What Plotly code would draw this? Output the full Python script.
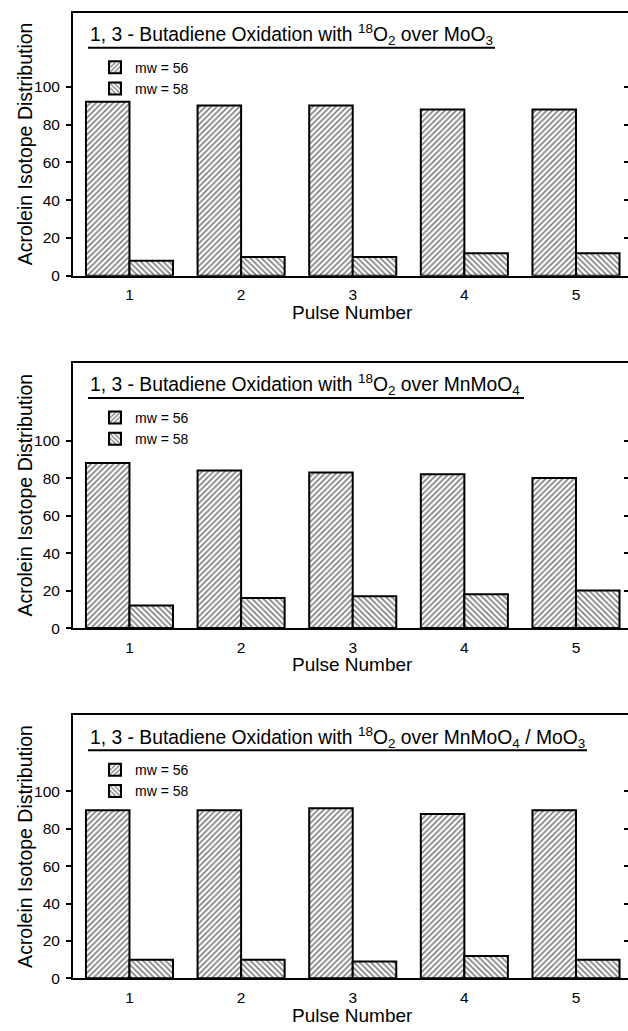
import plotly.graph_objects as go

W, H = 628, 1031

pulses = [1, 2, 3, 4, 5]
series_names = ["mw = 56", "mw = 58"]

moo3_mw56 = [92, 90, 90, 88, 88]
moo3_mw58 = [8, 10, 10, 12, 12]

mnmoo4_mw56 = [88, 84, 83, 82, 80]
mnmoo4_mw58 = [12, 16, 17, 18, 20]

mix_mw56 = [90, 90, 91, 88, 90]
mix_mw58 = [10, 10, 9, 12, 10]

titles = [
    "1, 3 - Butadiene Oxidation with <sup>18</sup>O<sub>2</sub> over MoO<sub>3</sub>",
    "1, 3 - Butadiene Oxidation with <sup>18</sup>O<sub>2</sub> over MnMoO<sub>4</sub>",
    "1, 3 - Butadiene Oxidation with <sup>18</sup>O<sub>2</sub> over MnMoO<sub>4</sub> / MoO<sub>3</sub>",
]
y_ticks = [0, 20, 40, 60, 80, 100]
y_title = "Acrolein Isotope Distribution"
x_title = "Pulse Number"

panels = [
    dict(d56=moo3_mw56, d58=moo3_mw58, top=13, bottom=278, ymax=139.0, ul_end=495),
    dict(d56=mnmoo4_mw56, d58=mnmoo4_mw58, top=366, bottom=633, ymax=141.3, ul_end=524),
    dict(d56=mix_mw56, d58=mix_mw58, top=721, bottom=986, ymax=140.7, ul_end=587),
]

FONT = "Liberation Sans, Arial, Helvetica, sans-serif"
LEFT = 73

fig = go.Figure()
layout = dict(
    width=W, height=H, autosize=False,
    margin=dict(l=0, r=0, t=0, b=0, pad=0),
    paper_bgcolor="white", plot_bgcolor="white",
    font=dict(family=FONT, color="black", size=15),
    barmode="group", bargap=0.22, bargroupgap=0.0,
    annotations=[], shapes=[],
)

def py(px):
    return 1 - px / H

for i, p in enumerate(panels):
    n = i + 1
    xa = "x" if n == 1 else f"x{n}"
    ya = "y" if n == 1 else f"y{n}"
    yr = f"y{n + 3}"
    leg = "legend" if n == 1 else f"legend{n}"
    for name, vals, shape in [(series_names[0], p["d56"], "/"), (series_names[1], p["d58"], "\\")]:
        fig.add_trace(go.Bar(
            x=pulses, y=vals, name=name, xaxis=xa, yaxis=ya, legend=leg,
            marker=dict(color="white", line=dict(color="black", width=2),
                        pattern=dict(shape=shape, fgcolor="black", bgcolor="white",
                                     size=4, solidity=0.42)),
            hoverinfo="skip",
        ))
    fig.add_trace(go.Scatter(x=[], y=[], xaxis=xa, yaxis=yr, showlegend=False, hoverinfo="skip"))

    dom_y = [py(p["bottom"]), py(p["top"])]
    layout[f"xaxis{'' if n == 1 else n}"] = dict(
        domain=[LEFT / W, 1.0], anchor=ya, range=[0.494, 5.466],
        tickvals=pulses, ticktext=[str(v) for v in pulses],
        showline=True, mirror=True, linecolor="black", linewidth=2,
        ticks="", ticklabelstandoff=4, showgrid=False, zeroline=False,
        tickfont=dict(size=15.5), fixedrange=True,
    )
    layout[f"yaxis{'' if n == 1 else n}"] = dict(
        domain=dom_y, anchor=xa, range=[0, p["ymax"]], tickvals=y_ticks,
        showline=True, linecolor="black", linewidth=2,
        ticks="outside", ticklen=5, tickwidth=1.5, tickcolor="black",
        ticklabelstandoff=3, showgrid=False, zeroline=False,
        tickfont=dict(size=15.5), fixedrange=True,
    )
    layout[f"yaxis{n + 3}"] = dict(
        overlaying=ya, anchor=xa, side="right", range=[0, p["ymax"]], tickvals=y_ticks,
        ticks="inside", ticklen=4, tickwidth=1.5, tickcolor="black",
        showticklabels=False, showline=False, showgrid=False, zeroline=False, fixedrange=True,
    )
    layout[leg] = dict(
        x=95 / W, xanchor="left", y=py(p["top"] + 39), yanchor="top",
        bgcolor="rgba(0,0,0,0)", borderwidth=0, font=dict(size=14),
        traceorder="normal", itemclick=False, itemdoubleclick=False,
    )
    top = p["top"]
    layout["annotations"] += [
        dict(text=titles[i], xref="paper", yref="paper", x=88 / W, y=py(top + 22),
             xanchor="left", yanchor="middle", showarrow=False, font=dict(size=19.3)),
        dict(text=y_title, xref="paper", yref="paper", x=25 / W,
             y=py((p["top"] + p["bottom"]) / 2), textangle=-90,
             xanchor="center", yanchor="middle", showarrow=False, font=dict(size=19.5)),
        dict(text=x_title, xref="paper", yref="paper", x=352 / W, y=py(p["bottom"] + 37),
             xanchor="center", yanchor="middle", showarrow=False, font=dict(size=19)),
    ]
    layout["shapes"].append(dict(
        type="line", xref="paper", yref="paper", x0=88 / W, x1=p["ul_end"] / W,
        y0=py(top + 35), y1=py(top + 35), line=dict(color="black", width=2),
    ))

fig.update_layout(**layout)
fig.write_html(
    "out.html",
    config={"displayModeBar": False},
    post_script="document.body.style.margin='0';document.body.style.overflow='hidden';",
)
